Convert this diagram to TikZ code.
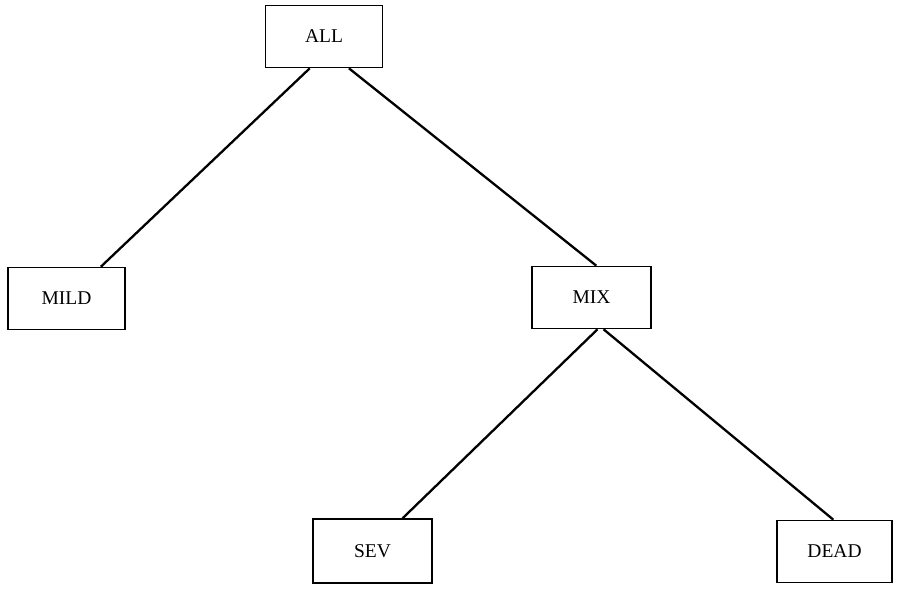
\documentclass[tikz,border=0pt]{standalone}
\usepackage{fontspec}
\setmainfont{Liberation Serif}
\usetikzlibrary{positioning,calc}
\tikzset{
  treebox/.style={draw,line width=1.6pt,minimum width=117pt,minimum height=62pt,inner sep=0pt,font=\fontsize{19.5}{23}\selectfont},
  branch/.style={line width=2.3pt}
}
\begin{document}
\begin{tikzpicture}[x=1pt,y=-1pt]
\useasboundingbox (0,0) rectangle (919,612);
\node[treebox] (all) at (324,36.5) {ALL};
\node[treebox] (mild) at (66.5,298.5) {MILD};
\node[treebox,minimum width=119pt] (mix) at (591.5,297.5) {MIX};
\node[treebox,minimum width=119pt,minimum height=64pt] (sev) at (372.5,551) {SEV};
\node[treebox,minimum width=115pt] (dead) at (834.5,551.5) {DEAD};
% branches
\draw[branch] ($(all.south west)!0.38!(all.south east)$) -- ($(mild.north west)!0.79!(mild.north east)$);
\draw[branch] ($(all.south west)!0.71!(all.south east)$) -- ($(mix.north west)!0.54!(mix.north east)$);
\draw[branch] ($(mix.south west)!0.55!(mix.south east)$) -- ($(sev.north west)!0.75!(sev.north east)$);
\draw[branch] ($(mix.south west)!0.60!(mix.south east)$) -- ($(dead.north west)!0.49!(dead.north east)$);
\end{tikzpicture}
\end{document}
